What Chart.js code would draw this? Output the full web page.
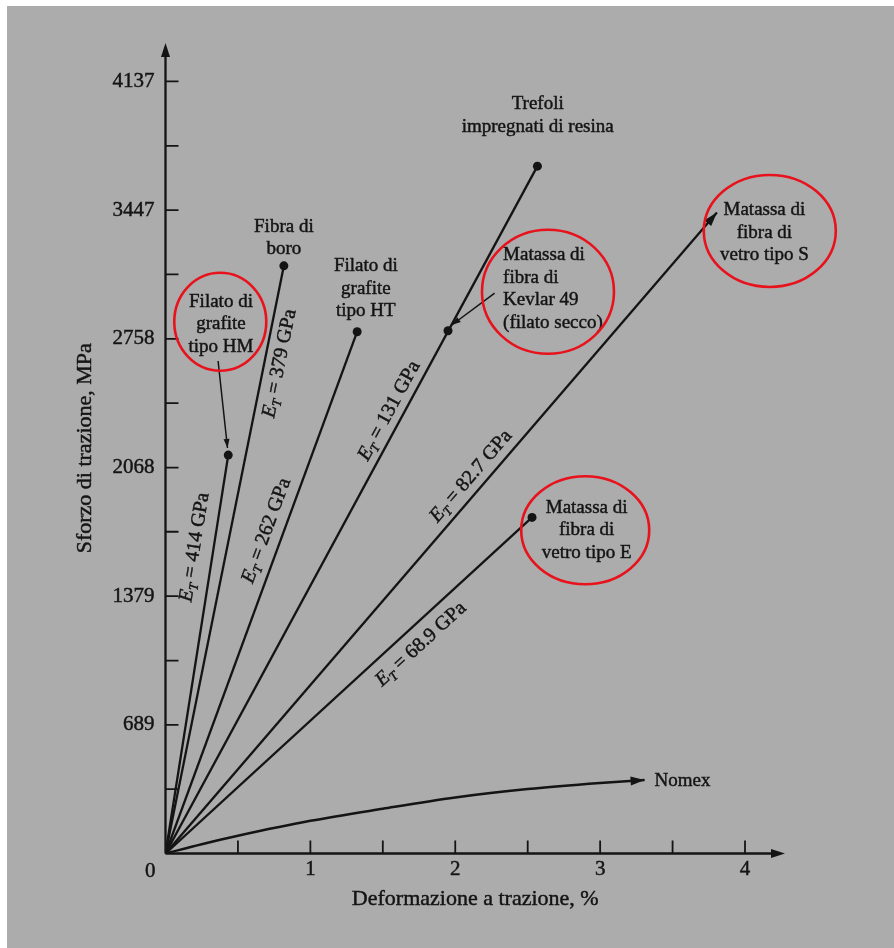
<!DOCTYPE html>
<html>
<head>
<meta charset="utf-8">
<script src="https://cdn.jsdelivr.net/npm/chart.js@4"></script>
<style>
html, body { margin: 0; padding: 0; background: #fff; }
canvas { display: block; }
</style>
</head>
<body>
<canvas id="chart" width="894" height="948"></canvas>
<script>
// Values: strain in %, stress in MPa
const fibers = ['Filato di grafite tipo HM', 'Fibra di boro', 'Filato di grafite tipo HT',
    'Trefoli impregnati di resina', 'Matassa di fibra di vetro tipo S', 'Matassa di fibra di vetro tipo E'];
const breakStrain = [0.433, 0.817, 1.323, 2.567, 3.806, 2.53];
const breakStress = [2135, 3149, 2796, 3683, 3435, 1801];
const endMark = ['dot', 'dot', 'dot', 'dot', 'arrow', 'dot'];
const moduli = ['414', '379', '262', '131', '82.7', '68.9'];

// Kevlar 49 dry yarn sits on the resin strand line
const kevlarStrain = [1.95];
const kevlarStress = [2801];

// Nomex curve
const nomexStrain = [0, 0.25, 0.5, 1, 1.5, 2, 2.5, 3, 3.307];
const nomexStress = [0, 50, 95, 175, 240, 300, 345, 378, 394];

// Axis ticks
const yTicks = [689, 1379, 2068, 2758, 3447, 4137];
const yMinor = [345, 1034, 1724, 2413, 3103, 3792];
const xTicks = [1, 2, 3, 4];
const xMinor = [0.5, 1.5, 2.5, 3.5];

// Annotation layout (data coordinates)
const notes = [
    { lines: ['Filato di', 'grafite', 'tipo HM'], x: 0.383, y: 2837, align: 'center' },
    { lines: ['Fibra di', 'boro'], x: 0.817, y: 3297, align: 'center' },
    { lines: ['Filato di', 'grafite', 'tipo HT'], x: 1.383, y: 3025, align: 'center' },
    { lines: ['Trefoli', 'impregnati di resina'], x: 2.569, y: 3955, align: 'center' },
    { lines: ['Matassa di', 'fibra di', 'Kevlar 49', '(filato secco)'], x: 2.33, y: 3026, align: 'left' },
    { lines: ['Matassa di', 'fibra di', 'vetro tipo S'], x: 4.134, y: 3325, align: 'center' },
    { lines: ['Matassa di', 'fibra di', 'vetro tipo E'], x: 2.907, y: 1731, align: 'center' },
    { lines: ['Nomex'], x: 3.376, y: 388, align: 'left' }
];
const modulusPos = [[0.19, 1642], [0.776, 2628], [0.686, 1733], [1.534, 2376], [2.1, 2028], [1.755, 1128]];
const circles = [[0.378, 2849, 46, 49], [2.64, 3010, 66, 62], [4.171, 3336, 66, 56], [2.897, 1732, 64, 54]];
const pointers = [[0.363, 2639, 0.428, 2173], [2.272, 3003, 1.976, 2832]];

const SERIF = '"Liberation Serif", "DejaVu Serif", serif';
const INK = '#141414';

const datasets = fibers.map((name, i) => ({
    label: name,
    data: [{ x: 0, y: 0 }, { x: breakStrain[i], y: breakStress[i] }],
    showLine: true,
    borderColor: INK,
    borderWidth: 2.3,
    pointRadius: [0, endMark[i] === 'dot' ? 4.5 : 0],
    pointBackgroundColor: INK,
    pointBorderWidth: 0
}));

datasets.push({
    label: 'Matassa di fibra di Kevlar 49 (filato secco)',
    data: kevlarStrain.map((v, i) => ({ x: v, y: kevlarStress[i] })),
    showLine: false,
    pointRadius: 4.5,
    pointBackgroundColor: INK,
    pointBorderWidth: 0
});

datasets.push({
    label: 'Nomex',
    data: nomexStrain.map((v, i) => ({ x: v, y: nomexStress[i] })),
    showLine: true,
    borderColor: INK,
    borderWidth: 2.5,
    cubicInterpolationMode: 'monotone',
    pointRadius: 0
});

function arrowHead(ctx, x0, y0, x1, y1, len, half) {
    const a = Math.atan2(y1 - y0, x1 - x0);
    ctx.beginPath();
    ctx.moveTo(x1, y1);
    ctx.lineTo(x1 - len * Math.cos(a) + half * Math.sin(a), y1 - len * Math.sin(a) - half * Math.cos(a));
    ctx.lineTo(x1 - len * Math.cos(a) - half * Math.sin(a), y1 - len * Math.sin(a) + half * Math.cos(a));
    ctx.closePath();
    ctx.fill();
}

// scanned print looks a little heavy, so text gets a hairline stroke
function inkText(ctx, t, x, y) {
    ctx.fillText(t, x, y);
    ctx.strokeText(t, x, y);
}

function drawModulus(ctx, x, y, angle, value) {
    ctx.save();
    ctx.translate(x, y);
    ctx.rotate(angle);
    const rest = ' = ' + value + ' GPa';
    ctx.font = 'italic 20px ' + SERIF;
    const wE = ctx.measureText('E').width;
    ctx.font = 'italic 13px ' + SERIF;
    const wT = ctx.measureText('T').width;
    ctx.font = '20px ' + SERIF;
    const wR = ctx.measureText(rest).width;
    let cx = -(wE + wT + wR) / 2;
    ctx.textBaseline = 'alphabetic';
    ctx.textAlign = 'left';
    ctx.font = 'italic 20px ' + SERIF;
    inkText(ctx, 'E', cx, 7);
    cx += wE;
    ctx.font = 'italic 13px ' + SERIF;
    inkText(ctx, 'T', cx, 11);
    cx += wT;
    ctx.font = '20px ' + SERIF;
    inkText(ctx, rest, cx, 7);
    ctx.restore();
}

const figurePlugin = {
    id: 'figure',
    beforeDraw(chart) {
        const ctx = chart.ctx;
        ctx.save();
        ctx.fillStyle = '#fff';
        ctx.fillRect(0, 0, chart.width, chart.height);
        ctx.fillStyle = '#acacac';
        ctx.fillRect(7, 6, chart.width - 7, chart.height - 6);
        ctx.restore();
    },
    afterDatasetsDraw(chart) {
        const ctx = chart.ctx;
        const xs = chart.scales.x, ys = chart.scales.y;
        const area = chart.chartArea;
        const px = v => xs.getPixelForValue(v);
        const py = v => ys.getPixelForValue(v);
        const ox = px(0), oy = py(0);

        ctx.save();
        ctx.strokeStyle = INK;
        ctx.fillStyle = INK;

        // axes with arrows
        ctx.lineWidth = 2.3;
        ctx.beginPath();
        ctx.moveTo(ox, oy);
        ctx.lineTo(area.right - 8, oy);
        ctx.moveTo(ox, oy);
        ctx.lineTo(ox, area.top + 8);
        ctx.stroke();
        arrowHead(ctx, ox, oy, area.right, oy, 14, 4.5);
        arrowHead(ctx, ox, oy, ox, area.top, 14, 4.5);

        // ticks pointing inward
        ctx.lineWidth = 1.8;
        ctx.beginPath();
        yTicks.concat(yMinor).forEach(v => {
            ctx.moveTo(ox, py(v));
            ctx.lineTo(ox + 13, py(v));
        });
        xTicks.concat(xMinor).forEach(v => {
            ctx.moveTo(px(v), oy);
            ctx.lineTo(px(v), oy - 13);
        });
        ctx.stroke();

        ctx.lineWidth = 0.45;

        // tick labels
        ctx.font = '21px ' + SERIF;
        ctx.textBaseline = 'middle';
        ctx.textAlign = 'right';
        yTicks.forEach(v => inkText(ctx, String(v), ox - 11, py(v)));
        inkText(ctx, '0', ox - 10, oy + 18);
        ctx.textAlign = 'center';
        xTicks.forEach(v => inkText(ctx, String(v), px(v), oy + 16));

        // axis titles
        ctx.font = '22px ' + SERIF;
        inkText(ctx, 'Deformazione a trazione, %', (ox + area.right) / 2, oy + 46);
        ctx.save();
        ctx.translate(ox - 80, (oy + area.top) / 2);
        ctx.rotate(-Math.PI / 2);
        inkText(ctx, 'Sforzo di trazione, MPa', 0, 0);
        ctx.restore();

        // arrow ends of curves
        chart.data.datasets.forEach((ds, i) => {
            const isArrow = (i < fibers.length && endMark[i] === 'arrow') || ds.label === 'Nomex';
            if (!isArrow) return;
            const pts = chart.getDatasetMeta(i).data;
            const a = pts[pts.length - 2], b = pts[pts.length - 1];
            arrowHead(ctx, a.x, a.y, b.x, b.y, 14, 4.5);
        });

        // modulus labels along each line
        modulusPos.forEach((p, i) => {
            const ang = Math.atan2(py(breakStress[i]) - oy, px(breakStrain[i]) - ox);
            drawModulus(ctx, px(p[0]), py(p[1]), ang, moduli[i]);
        });

        // text notes
        ctx.font = '19px ' + SERIF;
        ctx.textBaseline = 'middle';
        notes.forEach(n => {
            ctx.textAlign = n.align;
            const lh = 22.5;
            const y0 = py(n.y) - (n.lines.length - 1) * lh / 2;
            n.lines.forEach((t, k) => inkText(ctx, t, px(n.x), y0 + k * lh));
        });

        // pointer arrows from notes
        ctx.lineWidth = 1.5;
        pointers.forEach(p => {
            ctx.beginPath();
            ctx.moveTo(px(p[0]), py(p[1]));
            ctx.lineTo(px(p[2]), py(p[3]));
            ctx.stroke();
            arrowHead(ctx, px(p[0]), py(p[1]), px(p[2]), py(p[3]), 9, 3);
        });

        // red circles
        ctx.strokeStyle = '#e8121c';
        ctx.lineWidth = 2.6;
        circles.forEach(c => {
            ctx.beginPath();
            ctx.ellipse(px(c[0]), py(c[1]), c[2], c[3], 0, 0, Math.PI * 2);
            ctx.stroke();
        });
        ctx.restore();
    }
};

new Chart(document.getElementById('chart'), {
    type: 'scatter',
    data: { datasets: datasets },
    options: {
        responsive: false,
        devicePixelRatio: 1,
        animation: false,
        layout: { padding: { left: 165.5, right: 109, top: 43, bottom: 94.5 } },
        plugins: { legend: { display: false }, tooltip: { enabled: false } },
        scales: {
            x: { type: 'linear', display: false, min: 0, max: 4.276 },
            y: { type: 'linear', display: false, min: 0, max: 4343 }
        }
    },
    plugins: [figurePlugin]
});
</script>
</body>
</html>
